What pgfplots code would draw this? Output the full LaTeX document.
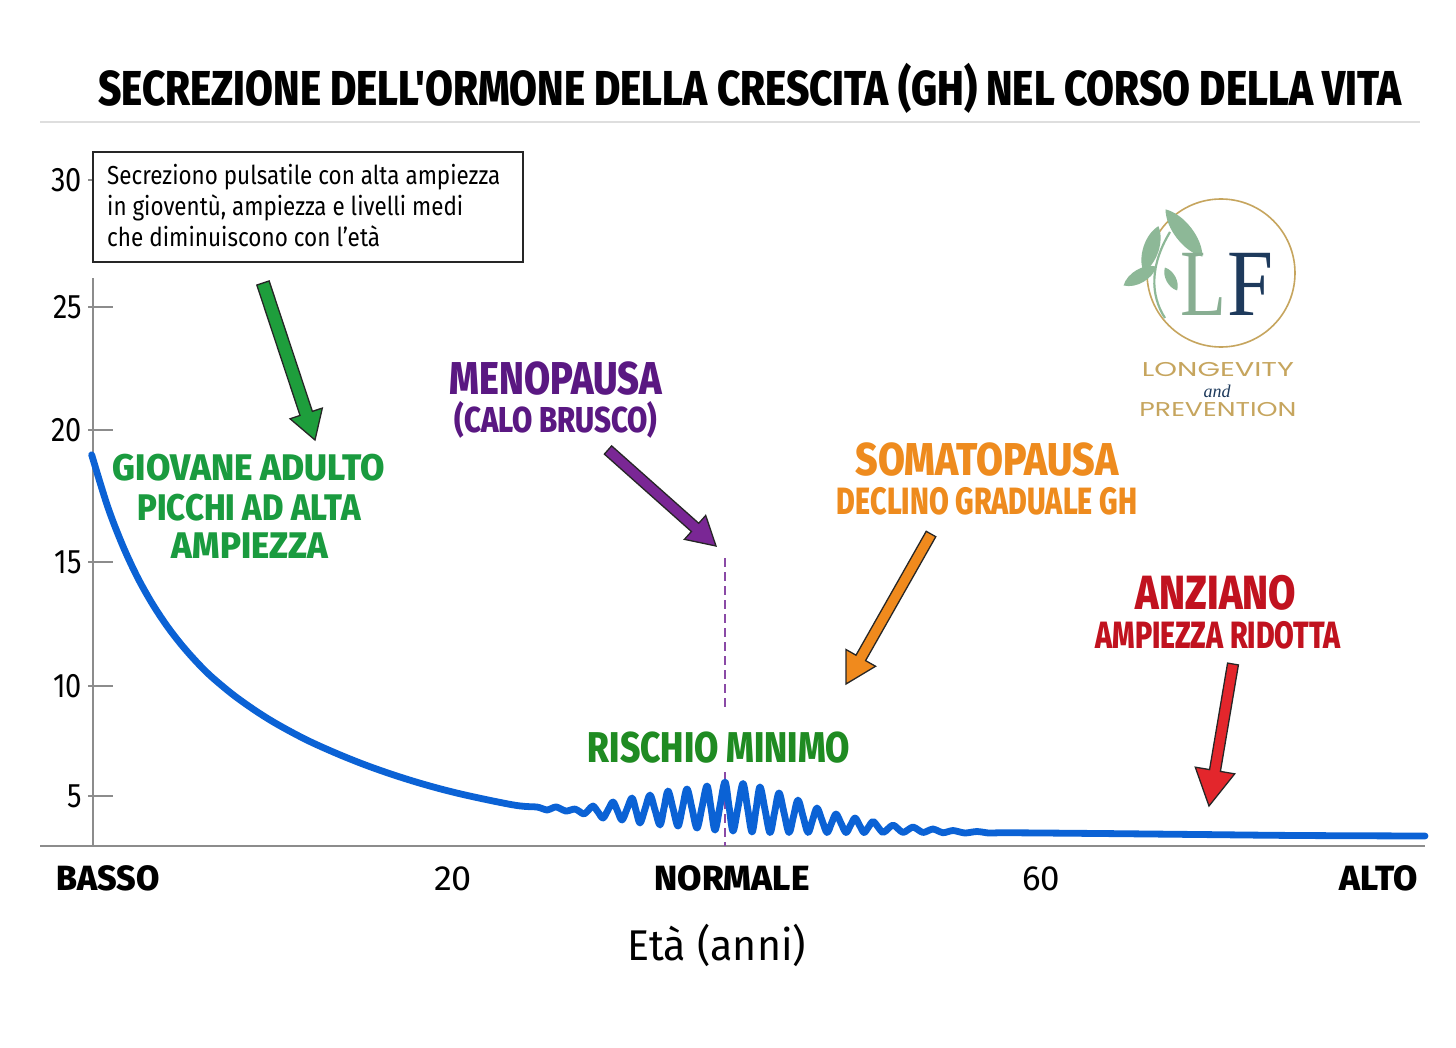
\documentclass[border=0pt]{standalone}
\usepackage{pgfplots}
\pgfplotsset{compat=1.18}
\usepackage{fontspec}
\usepackage{graphicx}
\setmainfont{Fira Sans}
\IfFontExistsTF{Fira Sans ExtraBold}{\newfontfamily\heavy{Fira Sans ExtraBold}}{\newfontfamily\heavy{Fira Sans}[UprightFont=*, UprightFeatures={FakeBold=2.5}]}
\newfontfamily\serifL{Liberation Serif}
\newfontfamily\popp{Poppins}
\usetikzlibrary{calc}
\definecolor{gh}{HTML}{0B62D5}
\definecolor{gA}{HTML}{1A9B3F}
\definecolor{gB}{HTML}{1F8B22}
\definecolor{garrow}{HTML}{1E9E3C}
\definecolor{pur}{HTML}{5A1882}
\definecolor{purarrow}{HTML}{7A2795}
\definecolor{purdash}{HTML}{8A4AA6}
\definecolor{ora}{HTML}{EE8B1E}
\definecolor{oraarrow}{HTML}{F08A1D}
\definecolor{red1}{HTML}{C1121F}
\definecolor{redarrow}{HTML}{E3262C}
\definecolor{gold}{HTML}{C6A55E}
\definecolor{sage}{HTML}{88AE92}
\definecolor{leaf}{HTML}{8DB897}
\definecolor{navy}{HTML}{1E3A5C}
\newcommand{\fitb}[3]{\resizebox{#1bp}{\height}{\fontsize{#2bp}{#2bp}\selectfont\heavy #3}}
\newcommand{\fitr}[3]{\resizebox{#1bp}{\height}{\fontsize{#2bp}{#2bp}\selectfont #3}}
\newcommand{\ytl}[1]{\scalebox{0.85}[1]{\fontsize{34bp}{34bp}\selectfont #1}}
\newcommand{\apo}{\char"0027\relax}
% fat arrow: x1,y1,x2,y2, half shaft, half head, head length, colour
\newcommand{\fatarrow}[8]{%
  \coordinate (A) at (#1,#2); \coordinate (B) at (#3,#4);
  \coordinate (C) at ($(B)!#7bp!(A)$);
  \draw[draw=black!85, line width=1.3bp, fill=#8, line join=miter]
   ($(A)!#5bp!90:(B)$) -- ($(C)!#5bp!90:(B)$) -- ($(C)!#6bp!90:(B)$) -- (B)
   -- ($(C)!#6bp!-90:(B)$) -- ($(C)!#5bp!-90:(B)$) -- ($(A)!#5bp!-90:(B)$) -- cycle;}
% pointed leaf: cx, cy, angle, half length, half width
\newcommand{\leafat}[5]{%
  \fill[leaf, shift={(#1,#2)}, rotate=#3]
   (-#4,0) .. controls ({-#4/2},{#5*1.3}) and ({#4/2},{#5*1.3}) .. (#4,0)
   .. controls ({#4/2},{-#5*1.3}) and ({-#4/2},{-#5*1.3}) .. cycle;}
\begin{document}
\begin{tikzpicture}
\fill[white] (0,0) rectangle (1456bp,-1048bp);
\path[use as bounding box] (0,0) rectangle (1456bp,-1048bp);
\begin{scope}[x=1bp,y=-1bp]
  \node[anchor=base, inner sep=0pt] at (750,105) {\fitb{1303}{49}{SECREZIONE DELL\apo ORMONE DELLA CRESCITA (GH) NEL CORSO DELLA VITA}};
  \draw[black!13, line width=2.5bp] (40,122) -- (1420,122);
  \draw[black!45, line width=2bp] (40,846) -- (1425,846);
  \draw[black!45, line width=1.5bp] (93,278) -- (93,846);
  \foreach \yy in {180,307,430,562,686,796} \draw[black!45, line width=1.5bp] (88,\yy) -- (113,\yy);
  \draw[purdash, line width=1.8bp, dash pattern=on 9bp off 5bp] (725,558) -- (725,712);
  \draw[purdash, line width=1.8bp, dash pattern=on 9bp off 5bp] (725,772) -- (725,846);
\end{scope}
\begin{axis}[
  at={(93bp,-846bp)}, anchor=south west, scale only axis,
  width=1332bp, height=706bp,
  xmin=-4.49, xmax=86.122, ymin=2.963, ymax=31.615,
  clip=false, axis line style={draw=none}, major tick length=0pt,
  xtick={-3.469,20,38.98,60,82.99},
  xticklabels={{\fitb{103}{35}{BASSO}},{\fitr{38}{35}{20}},{\fitb{155}{35}{NORMALE}},{\fitr{38}{35}{60}},{\fitb{78}{35}{ALTO}}},
  xticklabel style={anchor=base, inner sep=0pt, yshift=-44bp},
  ytick={4.992,9.456,14.49,19.85,24.84,29.99},
  yticklabels={{\ytl{5}},{\ytl{10}},{\ytl{15}},{\ytl{20}},{\ytl{25}},{\ytl{30}}},
  yticklabel style={anchor=east, inner sep=0pt, xshift=-11bp},
]
\addplot[gh, line width=6.8bp, smooth, tension=0.55, line join=round, line cap=round] coordinates {
(-4.58,18.84) (-3.5,16.75) (-2.5,15.20) (-1.5,13.91) (-0.5,12.84) (0.5,11.93)
(1.5,11.15) (2.5,10.47) (3.5,9.87) (5,9.12) (6.5,8.48) (8,7.92) (10,7.28)
(12,6.74) (14,6.26) (16,5.84) (18,5.47) (20,5.15) (22,4.88) (24,4.64) (24.9,4.57)
(25.714,4.545) (26.055,4.485) (26.395,4.424) (26.701,4.487) (27.007,4.550)
(27.347,4.465) (27.687,4.380) (27.993,4.422) (28.299,4.464) (28.606,4.363)
(28.912,4.261) (29.218,4.424) (29.524,4.586) (29.864,4.343) (30.204,4.099)
(30.544,4.424) (30.884,4.748) (31.191,4.383) (31.497,4.018) (31.837,4.465)
(32.177,4.911) (32.449,4.404) (32.721,3.896) (33.061,4.464) (33.401,5.032)
(33.742,4.424) (34.082,3.815) (34.354,4.505) (34.626,5.195) (34.966,4.485)
(35.306,3.774) (35.612,4.525) (35.918,5.276) (36.259,4.485) (36.599,3.693)
(36.939,4.546) (37.279,5.398) (37.551,4.505) (37.823,3.612) (38.163,4.586)
(38.503,5.560) (38.776,4.566) (39.048,3.571) (39.388,4.535) (39.728,5.499)
(40.034,4.515) (40.340,3.531) (40.612,4.444) (40.884,5.357) (41.225,4.434)
(41.565,3.511) (41.871,4.313) (42.177,5.114) (42.517,4.313) (42.857,3.511)
(43.163,4.171) (43.469,4.830) (43.810,4.171) (44.150,3.511) (44.456,4.008)
(44.762,4.505) (45.102,4.008) (45.442,3.511) (45.748,3.886) (46.054,4.261)
(46.395,3.886) (46.735,3.511) (47.041,3.805) (47.347,4.099) (47.653,3.805)
(47.959,3.511) (48.265,3.734) (48.571,3.957) (48.912,3.734) (49.252,3.511)
(49.592,3.663) (49.932,3.815) (50.272,3.663) (50.612,3.511) (50.953,3.623)
(51.293,3.734) (51.633,3.623) (51.973,3.511) (52.313,3.582) (52.653,3.653)
(52.993,3.577) (53.333,3.500) (53.674,3.546) (54.014,3.592) (54.422,3.541)
(54.830,3.490) (55.238,3.521) (55.646,3.551) (56.089,3.521) (56.531,3.490)
(57.891,3.500) (64.014,3.470) (70.816,3.429) (77.619,3.389) (86.122,3.369)
};
\end{axis}
\begin{scope}[x=1bp,y=-1bp]
  % box
  \draw[black!85, line width=2bp, fill=white] (93,152) rectangle (523,262);
  \node[anchor=base west, inner sep=0pt] at (107,185) {\fitr{393}{26}{Secreziono pulsatile con alta ampiezza}};
  \node[anchor=base west, inner sep=0pt] at (107,215) {\fitr{356}{26}{in gioventù, ampiezza e livelli medi}};
  \node[anchor=base west, inner sep=0pt] at (107,246) {\fitr{273}{26}{che diminuiscono con l\apo età}};
  % arrows
  \fatarrow{263}{283}{315}{440}{6.5}{17}{28}{garrow}
  \fatarrow{608}{450}{716}{546}{5.5}{16}{28}{purarrow}
  \fatarrow{931}{534}{846}{684}{5.5}{17}{30}{oraarrow}
  \fatarrow{1233}{664}{1209}{806}{5.5}{20}{36}{redarrow}
  % labels
  \node[anchor=base, inner sep=0pt, text=gA] at (249,480) {\fitb{272}{37}{GIOVANE ADULTO}};
  \node[anchor=base, inner sep=0pt, text=gA] at (249,520) {\fitb{223}{37}{PICCHI AD ALTA}};
  \node[anchor=base, inner sep=0pt, text=gA] at (250,558) {\fitb{156}{37}{AMPIEZZA}};
  \node[anchor=base, inner sep=0pt, text=pur] at (556,394) {\fitb{212}{46}{MENOPAUSA}};
  \node[anchor=base, inner sep=0pt, text=pur] at (556,432) {\fitb{203}{36}{(CALO BRUSCO)}};
  \node[anchor=base, inner sep=0pt, text=gB] at (719,762) {\fitb{262}{43}{RISCHIO MINIMO}};
  \node[anchor=base, inner sep=0pt, text=ora] at (987,475) {\fitb{263}{46}{SOMATOPAUSA}};
  \node[anchor=base, inner sep=0pt, text=ora] at (987,514) {\fitb{300}{38}{DECLINO GRADUALE GH}};
  \node[anchor=base, inner sep=0pt, text=red1] at (1216,609) {\fitb{160}{48}{ANZIANO}};
  \node[anchor=base, inner sep=0pt, text=red1] at (1218,648) {\fitb{245}{38}{AMPIEZZA RIDOTTA}};
  % x label
  \node[anchor=base, inner sep=0pt] at (717,960) {\fitr{178}{43}{Età (anni)}};
  % logo
  \draw[gold, line width=1.6bp] (1221,273) circle (74bp);
  \draw[leaf, line width=2.2bp] (1165,318) .. controls (1150,295) and (1150,265) .. (1170,232);
  \leafat{1184}{233}{-52}{30}{9}
  \leafat{1151}{249}{-108}{24}{8}
  \leafat{1140}{276}{-150}{19}{7}
  \leafat{1171}{279}{-62}{13}{5}
  \node[anchor=base, inner sep=0pt, text=sage] at (1203,315) {\resizebox{46bp}{\height}{\fontsize{95bp}{95bp}\serifL L}};
  \node[anchor=base, inner sep=0pt, text=navy] at (1250,315) {\resizebox{46bp}{\height}{\fontsize{95bp}{95bp}\serifL F}};
  \node[anchor=base, inner sep=0pt, text=gold] at (1218,377) {\resizebox{152bp}{\height}{\fontsize{20bp}{20bp}\popp LONGEVITY}};
  \node[anchor=base, inner sep=0pt, text=navy] at (1217,397) {\fontsize{18bp}{18bp}\serifL\itshape and};
  \node[anchor=base, inner sep=0pt, text=gold] at (1218,416) {\resizebox{157bp}{\height}{\fontsize{20bp}{20bp}\popp PREVENTION}};
\end{scope}
\end{tikzpicture}
\end{document}
